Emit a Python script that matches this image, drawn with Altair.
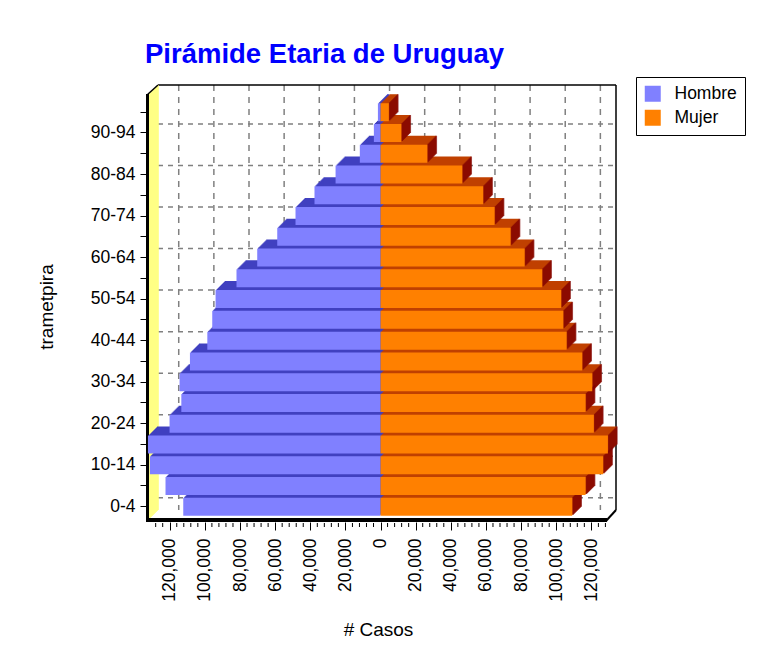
import altair as alt
import pandas as pd

# ---- data (thousands of people), bottom age group first ----
ages = ["0-4", "5-9", "10-14", "15-19", "20-24", "25-29", "30-34", "35-39",
        "40-44", "45-49", "50-54", "55-59", "60-64", "65-69", "70-74",
        "75-79", "80-84", "85-89", "90-94", "95+"]
hombre = [112.3, 122.4, 131.3, 132.4, 120.1, 113.4, 114.4, 108.5, 98.6, 95.8,
          93.9, 82.0, 70.2, 58.8, 48.4, 37.6, 25.6, 11.8, 3.8, 1.5]
mujer = [109.1, 116.7, 126.7, 129.4, 121.4, 116.7, 120.5, 114.8, 105.9, 104.0,
         102.8, 92.0, 82.0, 74.0, 64.9, 58.4, 46.5, 26.6, 11.8, 4.7]
shown_labels = ["0-4", "10-14", "20-24", "30-34", "40-44", "50-54",
                "60-64", "70-74", "80-84", "90-94"]
x_ticks = [-120000, -100000, -80000, -60000, -40000, -20000, 0,
           20000, 40000, 60000, 80000, 100000, 120000]
series = ["Hombre", "Mujer"]

# ---- styling / geometry ----
W, H = 458, 425
D = 9                      # 3D depth in pixels
XMIN, XMAX = -131800, 128900
PI, PO, AL = 0.133, 0.30, 0.74
step = H / (len(ages) - PI + 2 * PO)
BAR_H = step * (1 - PI)
FONT = "Liberation Sans"

df = pd.DataFrame({
    "tramo": ages + ages,
    "sexo": ["Hombre"] * len(ages) + ["Mujer"] * len(ages),
    "casos": [-v * 1000 for v in hombre] + [v * 1000 for v in mujer],
})
df_h = df[df.sexo == "Hombre"]
df_m = df[df.sexo == "Mujer"]
ticks_df = pd.DataFrame({"t": x_ticks})
hgrid_df = pd.DataFrame({"tramo": shown_labels})
minor_df = pd.DataFrame({"t": [v for v in range(-128000, 129000, 4000) if v % 20000 != 0]})
one = ticks_df.head(1)

order = ages[::-1]
x_scale = alt.Scale(domain=[XMIN, XMAX], nice=False, zero=False)
y_scale = alt.Scale(domain=order, paddingInner=PI, paddingOuter=PO, align=AL)

lbl_list = "[" + ",".join("'%s'" % s for s in shown_labels) + "]"
x_axis = alt.Axis(values=x_ticks, labelExpr="format(abs(datum.value), ',')",
                  labelAngle=270, labelFontSize=17.5, labelFont=FONT,
                  labelColor="black", domain=False, grid=False, offset=3,
                  tickSize=8, tickColor="black", labelPadding=8,
                  title="# Casos", titleFont=FONT, titleFontSize=19,
                  titleFontWeight="normal", titleColor="black", titlePadding=19)
y_axis = alt.Axis(labelExpr="indexof(%s, datum.value) >= 0 ? datum.value : ''" % lbl_list,
                  labelFontSize=17.5, labelFont=FONT, labelColor="black",
                  domain=False, grid=False, offset=3, tickSize=6,
                  tickColor="black", labelPadding=5,
                  title="trametpira", titleFont=FONT, titleFontSize=19,
                  titleFontWeight="normal", titleColor="black", titlePadding=34)

def X(field):
    return alt.X(field, scale=x_scale, axis=x_axis)

def Y(field="tramo:N"):
    return alt.Y(field, scale=y_scale, axis=y_axis, sort=order)

layers = []

# back wall grid (dashed)
layers.append(alt.Chart(ticks_df).mark_rule(color="#808080", strokeWidth=1.5,
                                             strokeDash=[6, 6], xOffset=D).encode(
    x=X("t:Q"), y=alt.value(-D), y2=alt.value(H - D)))
layers.append(alt.Chart(hgrid_df).mark_rule(color="#808080", strokeWidth=1.5,
                                             strokeDash=[5, 5], yOffset=-D).encode(
    y=Y(), x=alt.value(D), x2=alt.value(W + D)))
# back wall frame (top + right)
layers.append(alt.Chart(one).mark_rule(color="black", strokeWidth=1.5).encode(
    x=alt.value(D), x2=alt.value(W + D), y=alt.value(-D)))
layers.append(alt.Chart(one).mark_rule(color="black", strokeWidth=1.5).encode(
    x=alt.value(W + D), y=alt.value(-D), y2=alt.value(H - D)))
# left wall (yellow)
for k in range(0, D + 1):
    layers.append(alt.Chart(one).mark_rule(color="#ffff80", strokeWidth=1.6).encode(
        x=alt.value(k), y=alt.value(-k), y2=alt.value(H - k)))
layers.append(alt.Chart(one).mark_rule(color="black", strokeWidth=3).encode(
    x=alt.value(-1.5), y=alt.value(0), y2=alt.value(H + 3)))
layers.append(alt.Chart(one).mark_rule(color="black", strokeWidth=1.5).encode(
    x=alt.value(-2), x2=alt.value(D), y=alt.value(1), y2=alt.value(-D)))

# bar extrusions: top faces
for k in range(1, D + 1):
    layers.append(alt.Chart(df_h).mark_bar(color="#4040c0", xOffset=k, x2Offset=k,
                                           yOffset=-k, y2Offset=-k).encode(
        x=X("casos:Q"), y=Y()))
for k in range(1, D + 1):
    layers.append(alt.Chart(df_m).mark_bar(color="#c04000", xOffset=k, x2Offset=k,
                                           yOffset=-k, y2Offset=-k).encode(
        x=X("casos:Q"), y=Y()))
# right side faces of the orange bars
for k in range(1, D + 1):
    layers.append(alt.Chart(df_m).mark_tick(color="#800000", orient="vertical",
                                            thickness=1.6, size=BAR_H,
                                            xOffset=k, yOffset=-k).encode(
        x=X("casos:Q"), y=Y()))

# floor
layers.append(alt.Chart(one).mark_rule(color="black", strokeWidth=4).encode(
    x=alt.value(-3), x2=alt.value(W), y=alt.value(H + 1)))
layers.append(alt.Chart(one).mark_rule(color="black", strokeWidth=2).encode(
    x=alt.value(W - 1), x2=alt.value(W + D), y=alt.value(H + 2), y2=alt.value(H - D)))
# minor ticks
layers.append(alt.Chart(minor_df).mark_rule(color="black", strokeWidth=1).encode(
    x=X("t:Q"), y=alt.value(H + 4), y2=alt.value(H + 8)))

# front faces (with legend)
layers.append(alt.Chart(df).mark_bar().encode(
    x=X("casos:Q"),
    y=Y(),
    color=alt.Color("sexo:N",
                    scale=alt.Scale(domain=series, range=["#8080ff", "#ff8000"]),
                    legend=alt.Legend(title=None, orient="none", legendX=487, legendY=-17,
                                      symbolType="square", symbolSize=256,
                                      symbolStrokeWidth=0, labelFontSize=17.5,
                                      labelFont=FONT, labelColor="black",
                                      padding=8, rowPadding=5, labelOffset=13,
                                      strokeColor="black", fillColor="white")),
))

chart = alt.layer(*layers).properties(
    width=W, height=H,
    title=alt.TitleParams("Pirámide Etaria de Uruguay", anchor="start", frame="group",
                          dx=-4, dy=34, fontSize=27.5, fontWeight="bold", color="#0000ff",
                          font=FONT, baseline="alphabetic", offset=20),
    autosize=alt.AutoSizeParams(type="none"),
    padding={"left": 141, "top": 86, "right": 150, "bottom": 128},
).configure_view(stroke=None)

chart.save("out.html", embed_options={"renderer": "svg", "actions": False})
